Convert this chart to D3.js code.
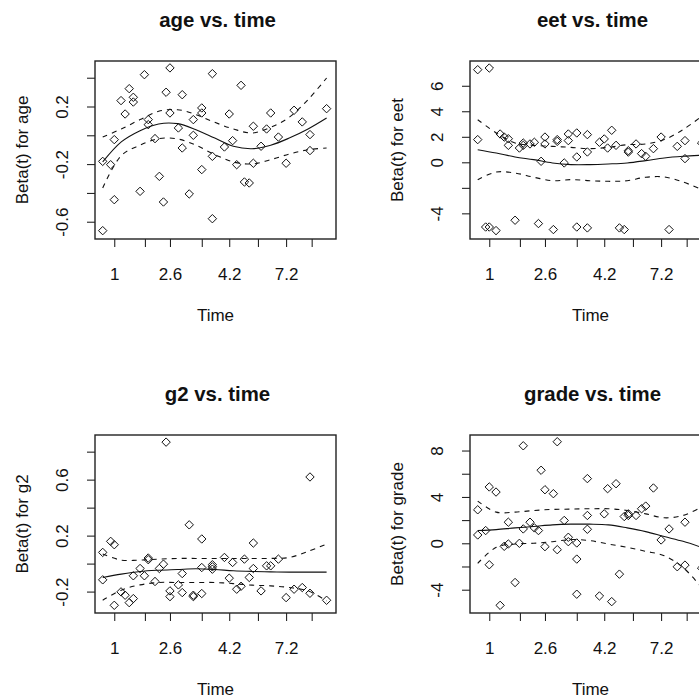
<!DOCTYPE html>
<html><head><meta charset="utf-8">
<script src="https://cdn.jsdelivr.net/npm/d3@7"></script>
<style>
body{margin:0;background:#fff;}
svg{display:block;}
text{font-family:"Liberation Sans",Arial,sans-serif;fill:#111;}
</style>
</head><body>
<svg id="chart" width="699" height="700"></svg>
<script>
// Transformed (KM) event time, as a fraction of the time axis
const eventTime = [0.032,0.032,0.065,0.080,0.080,0.108,0.125,0.142,0.159,0.159,0.187,0.205,0.221,0.221,0.249,0.267,0.284,0.295,0.311,0.311,0.346,0.362,0.362,0.391,0.408,0.408,0.443,0.443,0.443,0.487,0.487,0.487,0.537,0.557,0.571,0.588,0.606,0.620,0.640,0.657,0.657,0.689,0.712,0.729,0.761,0.793,0.826,0.860,0.892,0.892,0.961];

const xTicks = [0.080,0.207,0.311,0.443,0.557,0.676,0.793,0.899];
const xTickLabels = ["1","","2.6","","4.2","","7.2",""];

// Scaled Schoenfeld residuals per covariate
const ageBeta = [-0.181,-0.662,-0.204,-0.030,-0.447,0.241,0.148,0.324,0.264,0.231,-0.389,0.421,0.109,0.074,-0.023,-0.285,-0.463,0.299,0.468,0.155,0.051,0.282,-0.088,-0.407,0.109,0.000,0.190,0.155,-0.238,0.428,-0.146,-0.579,-0.081,0.148,-0.037,-0.204,0.347,-0.324,-0.331,0.063,-0.194,-0.076,0.044,0.155,-0.012,-0.194,0.174,0.093,0.005,-0.106,0.185];
const eetBeta = [7.26,1.78,-5.07,7.39,-5.07,-5.35,2.22,1.98,1.85,1.33,-4.54,1.12,1.51,1.33,1.44,1.57,-4.80,0.08,1.98,1.44,-5.27,1.78,1.64,-0.05,2.22,1.70,2.30,0.42,-5.07,2.17,0.81,-5.14,1.57,1.83,1.12,2.51,1.33,-5.14,-5.27,0.91,0.80,1.44,0.68,0.47,1.07,1.98,-5.27,1.25,1.70,0.29,1.51];
const g2Beta = [0.080,-0.116,0.159,0.135,-0.298,-0.202,-0.226,-0.279,-0.250,-0.087,-0.035,-0.087,0.040,0.028,-0.128,-0.035,-0.004,0.868,-0.195,-0.236,-0.152,-0.071,-0.207,0.277,-0.226,-0.236,0.176,-0.028,-0.214,-0.008,-0.023,-0.040,0.044,-0.104,0.008,-0.183,-0.162,0.032,-0.099,0.147,-0.035,-0.195,-0.016,-0.016,0.032,-0.243,-0.183,-0.171,0.619,-0.212,-0.262];
const gradeBeta = [2.89,0.72,1.10,4.86,-1.85,4.42,-5.35,-0.26,1.82,-0.06,-3.38,0.00,8.41,1.24,1.82,1.33,1.10,6.30,4.62,-0.29,4.28,8.76,-0.55,1.97,0.52,0.14,0.03,-1.36,-4.39,5.58,2.40,1.21,-4.54,2.54,4.71,-5.03,5.14,-2.66,2.31,2.54,2.40,2.40,2.98,3.21,4.77,0.29,1.24,-2.02,1.82,-1.88,-2.14];

// Smoothed fit and confidence band on a time grid
const curveTime = [0.032,0.109,0.187,0.264,0.342,0.419,0.497,0.574,0.652,0.729,0.806,0.884,0.961];
const ageFit   = [-0.185,-0.046,0.032,0.079,0.081,0.039,-0.019,-0.076,-0.093,-0.069,-0.019,0.044,0.120];
const ageUpper = [-0.012,0.044,0.109,0.167,0.178,0.144,0.090,0.044,0.016,0.056,0.125,0.248,0.398];
const ageLower = [-0.366,-0.141,-0.069,-0.023,-0.025,-0.069,-0.134,-0.185,-0.199,-0.169,-0.130,-0.100,-0.088];
const eetFit   = [0.99,0.73,0.42,0.21,-0.05,-0.18,-0.18,-0.13,-0.05,0.13,0.34,0.47,0.55];
const eetUpper = [3.34,2.30,1.51,1.33,1.25,1.17,1.07,1.17,1.38,1.44,1.78,2.56,3.60];
const eetLower = [-1.36,-0.76,-0.84,-1.17,-1.44,-1.36,-1.44,-1.49,-1.44,-1.17,-1.15,-1.54,-2.14];
const g2Fit    = [-0.099,-0.075,-0.056,-0.047,-0.042,-0.037,-0.042,-0.051,-0.056,-0.059,-0.061,-0.061,-0.061];
const g2Upper  = [0.068,0.025,0.025,0.032,0.037,0.037,0.037,0.037,0.037,0.037,0.044,0.087,0.140];
const g2Lower  = [-0.262,-0.190,-0.152,-0.135,-0.135,-0.135,-0.135,-0.143,-0.154,-0.159,-0.171,-0.195,-0.267];
const gradeFit   = [1.10,1.18,1.33,1.45,1.59,1.65,1.65,1.59,1.33,1.01,0.58,0.17,-0.35];
const gradeUpper = [3.64,2.69,2.69,2.83,2.92,2.95,2.98,2.98,2.83,2.54,2.20,2.40,3.12];
const gradeLower = [-1.73,-0.35,-0.06,0.00,0.14,0.32,0.23,-0.06,-0.35,-0.69,-1.07,-2.08,-3.82];

const ageYTicks = [-0.6,-0.4,-0.2,0,0.2,0.4];
const ageYTickLabels = ["-0.6","","-0.2","","0.2",""];
const eetYTicks = [-4,-2,0,2,4,6];
const eetYTickLabels = ["-4","","0","2","4","6"];
const g2YTicks = [-0.2,0,0.2,0.4,0.6,0.8];
const g2YTickLabels = ["-0.2","","0.2","","0.6",""];
const gradeYTicks = [-4,-2,0,2,4,6,8];
const gradeYTickLabels = ["-4","","0","","4","","8"];

const names = ["age","eet","g2","grade"];
const betas = [ageBeta, eetBeta, g2Beta, gradeBeta];
const fits = [ageFit, eetFit, g2Fit, gradeFit];
const uppers = [ageUpper, eetUpper, g2Upper, gradeUpper];
const lowers = [ageLower, eetLower, g2Lower, gradeLower];
const yDomains = [[-0.720,0.516],[-6.01,7.94],[-0.353,0.919],[-6.01,9.34]];
const yTicksAll = [ageYTicks, eetYTicks, g2YTicks, gradeYTicks];
const yLabelsAll = [ageYTickLabels, eetYTickLabels, g2YTickLabels, gradeYTickLabels];

const svg = d3.select("#chart");
const PW = 375, PH = 374;
const L = 95, R = 336, T = 61, B = 239;
const FS = 17;

names.forEach((nm, k) => {
  const col = k % 2, row = Math.floor(k / 2);
  const g = svg.append("g").attr("transform", `translate(${col*PW},${row*PH})`);
  const x = d3.scaleLinear().domain([0,1]).range([L,R]);
  const y = d3.scaleLinear().domain(yDomains[k]).range([B,T]);

  // title
  g.append("text").attr("x",(L+R)/2+2).attr("y",27).attr("text-anchor","middle")
    .attr("font-size",20.4).attr("font-weight","bold").text(`${nm} vs. time`);

  // x axis
  const xa = g.append("g").attr("transform",`translate(0,${B})`)
    .call(d3.axisBottom(x).tickValues(xTicks).tickFormat((d,i)=>xTickLabels[i]).tickSize(8).tickPadding(21));
  xa.select(".domain").remove();
  xa.selectAll("line").attr("stroke","#111");
  xa.selectAll("text").attr("font-size",FS).attr("font-family","Liberation Sans, Arial, sans-serif").attr("fill","#111");

  // y axis
  const yl = yLabelsAll[k];
  const ya = g.append("g").attr("transform",`translate(${L},0)`)
    .call(d3.axisLeft(y).tickValues(yTicksAll[k]).tickFormat((d,i)=>yl[i]).tickSize(8));
  ya.select(".domain").remove();
  ya.selectAll("line").attr("stroke","#111");
  ya.selectAll("text").attr("font-size",FS).attr("font-family","Liberation Sans, Arial, sans-serif").attr("fill","#111")
    .attr("transform","rotate(-90)").attr("x",0).attr("y",-27).attr("dy",null).attr("text-anchor","middle");

  // axis titles
  g.append("text").attr("x",(L+R)/2).attr("y",321).attr("text-anchor","middle").attr("font-size",FS).text("Time");
  g.append("text").attr("transform",`translate(28,${(T+B)/2}) rotate(-90)`).attr("text-anchor","middle")
    .attr("font-size",FS).text(`Beta(t) for ${nm}`);

  // box
  g.append("rect").attr("x",L).attr("y",T).attr("width",R-L).attr("height",B-T)
    .attr("fill","none").attr("stroke","#222").attr("stroke-width",1.4);

  // points
  const r = 4.2;
  g.append("g").selectAll("path").data(betas[k]).join("path")
    .attr("d",(d,i)=>`M${x(eventTime[i])},${y(d)-r}L${x(eventTime[i])+r},${y(d)}L${x(eventTime[i])},${y(d)+r}L${x(eventTime[i])-r},${y(d)}Z`)
    .attr("fill","none").attr("stroke","#111").attr("stroke-width",1);

  // curves
  const line = d3.line().x((d,i)=>x(curveTime[i])).y(d=>y(d)).curve(d3.curveCatmullRom.alpha(0.5));
  g.append("path").attr("d",line(fits[k])).attr("fill","none").attr("stroke","#111").attr("stroke-width",1.1);
  [uppers[k], lowers[k]].forEach(arr=>{
    g.append("path").attr("d",line(arr)).attr("fill","none").attr("stroke","#111")
      .attr("stroke-width",1.1).attr("stroke-dasharray","5,5");
  });
});
</script>
</body></html>
